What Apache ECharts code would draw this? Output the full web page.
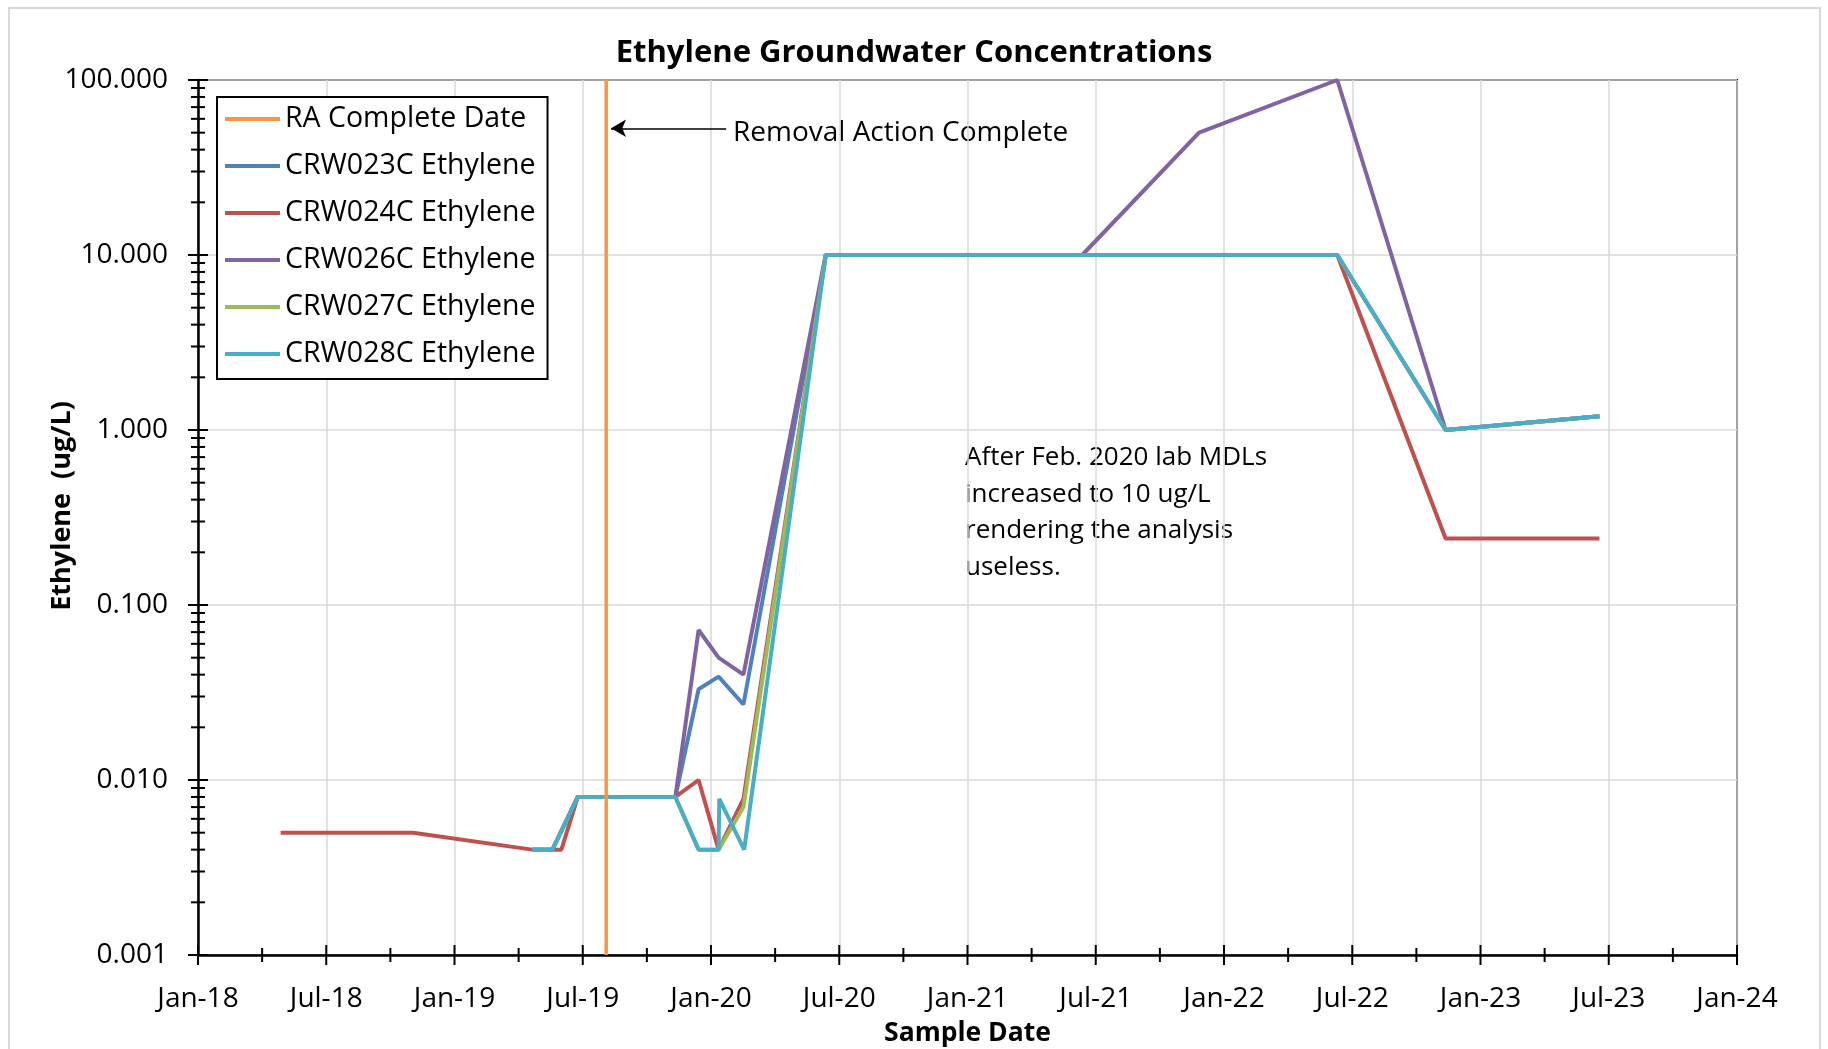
<!DOCTYPE html>
<html>
<head>
<meta charset="utf-8">
<title>Ethylene Groundwater Concentrations</title>
<script src="https://cdn.jsdelivr.net/npm/echarts@6/dist/echarts.min.js"></script>
<style>
  html, body { margin: 0; padding: 0; background: #fff; overflow: hidden; }
  #chart { width: 1828px; height: 1049px; }
</style>
</head>
<body>
<div id="chart"></div>
<script>
// ---- Data -----------------------------------------------------------------
// X axis tick labels (every 6 months from Jan 2018)
const xTickLabels = ['Jan-18', 'Jul-18', 'Jan-19', 'Jul-19', 'Jan-20', 'Jul-20', 'Jan-21',
                     'Jul-21', 'Jan-22', 'Jul-22', 'Jan-23', 'Jul-23', 'Jan-24'];

// Removal action completion date
const raCompleteDate = '2019-08-04';

// Sample results, [sample date, ethylene ug/L]
const crw023c = [
  ['2019-04-20', 0.004], ['2019-05-19', 0.004], ['2019-06-24', 0.008], ['2019-11-11', 0.008],
  ['2019-12-14', 0.033], ['2020-01-12', 0.039], ['2020-02-16', 0.027], ['2020-06-12', 10],
  ['2021-06-12', 10], ['2021-11-26', 10], ['2022-06-10', 10], ['2022-11-12', 1.0], ['2023-06-18', 1.2]
];
const crw024c = [
  ['2018-04-27', 0.005], ['2018-11-03', 0.005], ['2019-04-20', 0.004], ['2019-06-01', 0.004],
  ['2019-06-24', 0.008], ['2019-11-11', 0.008], ['2019-12-14', 0.010], ['2020-01-12', 0.004],
  ['2020-02-16', 0.0078], ['2020-06-12', 10], ['2021-06-12', 10], ['2021-11-26', 10],
  ['2022-06-10', 10], ['2022-11-12', 0.24], ['2023-06-18', 0.24]
];
const crw026c = [
  ['2019-04-20', 0.004], ['2019-05-19', 0.004], ['2019-06-24', 0.008], ['2019-11-11', 0.008],
  ['2019-12-14', 0.072], ['2020-01-12', 0.050], ['2020-02-16', 0.040], ['2020-06-12', 10],
  ['2021-06-12', 10], ['2021-11-26', 50], ['2022-06-10', 100], ['2022-11-12', 1.0], ['2023-06-18', 1.2]
];
const crw027c = [
  ['2019-04-20', 0.004], ['2019-05-19', 0.004], ['2019-06-24', 0.008], ['2019-11-11', 0.008],
  ['2019-12-14', 0.004], ['2020-01-12', 0.004], ['2020-02-16', 0.007], ['2020-06-12', 10],
  ['2021-06-12', 10], ['2021-11-26', 10], ['2022-06-10', 10], ['2022-11-12', 1.0], ['2023-06-18', 1.2]
];
const crw028c = [
  ['2019-04-20', 0.004], ['2019-05-19', 0.004], ['2019-06-24', 0.008], ['2019-11-11', 0.008],
  ['2019-12-14', 0.004], ['2020-01-12', 0.004], ['2020-01-13', 0.0078], ['2020-02-17', 0.004],
  ['2020-06-12', 10], ['2021-06-12', 10], ['2021-11-26', 10], ['2022-06-10', 10],
  ['2022-11-12', 1.0], ['2023-06-18', 1.2]
];

// Callout arrow pointing at the removal-action line (date, concentration)
const calloutFrom = ['2020-01-23', 53];
const calloutTo = ['2019-08-11', 53];

// ---- Helpers --------------------------------------------------------------
const START_YEAR = 2018;
const X_MIN = 0, X_MAX = 72;        // months since Jan 2018
const Y_MIN = 0.001, Y_MAX = 100;
const FONT = '"Open Sans", "Noto Sans", sans-serif';

// Date string -> fractional months since Jan 1 2018
function toMonth(s) {
  const [y, m, d] = s.split('-').map(Number);
  const dim = new Date(y, m, 0).getDate();
  return (y - START_YEAR) * 12 + (m - 1) + (d - 1) / dim;
}
const toXY = arr => arr.map(([d, v]) => [toMonth(d), v]);

// Tick marks that cross the axis lines (Excel style)
const tickData = [];
for (let m = X_MIN; m <= X_MAX; m += 3) tickData.push([m, Y_MIN, 0, m % 6 === 0 ? 1 : 0]);
for (let e = -3; e <= 2; e++) {
  for (let k = 1; k <= 9; k++) {
    const v = k * Math.pow(10, e);
    if (v > Y_MAX * 1.0001) break;
    tickData.push([X_MIN, v, 1, k === 1 ? 1 : 0]);
  }
}

const wells = [
  { name: 'CRW023C Ethylene', data: crw023c, color: '#4F81BD' },
  { name: 'CRW024C Ethylene', data: crw024c, color: '#C0504D' },
  { name: 'CRW026C Ethylene', data: crw026c, color: '#8064A2' },
  { name: 'CRW027C Ethylene', data: crw027c, color: '#9BBB59' },
  { name: 'CRW028C Ethylene', data: crw028c, color: '#4BACC6' }
];

const chart = echarts.init(document.getElementById('chart'), null, { renderer: 'canvas' });

const series = [];
series.push({
  name: 'RA Complete Date',
  type: 'line',
  data: [[toMonth(raCompleteDate), Y_MIN], [toMonth(raCompleteDate), Y_MAX]],
  symbol: 'none',
  showSymbol: false,
  lineStyle: { color: '#F79646', width: 3.5 },
  itemStyle: { color: '#F79646' },
  z: 3,
  markLine: {
    silent: true,
    animation: false,
    symbol: ['none', 'arrow'],
    symbolSize: [13, 15],
    lineStyle: { color: '#000', width: 1.5, type: 'solid' },
    label: { show: false },
    data: [[
      { coord: [toMonth(calloutFrom[0]), calloutFrom[1]] },
      { coord: [toMonth(calloutTo[0]), calloutTo[1]] }
    ]]
  }
});
wells.forEach(w => {
  series.push({
    name: w.name,
    type: 'line',
    data: toXY(w.data),
    symbol: 'none',
    showSymbol: false,
    lineStyle: { color: w.color, width: 4 },
    itemStyle: { color: w.color },
    z: 2
  });
});
series.push({
  name: 'ticks',
  type: 'custom',
  silent: true,
  clip: false,
  z: 5,
  data: tickData,
  renderItem(params, api) {
    const p = api.coord([api.value(0), api.value(1)]);
    const isY = api.value(2) === 1;
    const len = api.value(3) === 1 ? 10 : 7;
    const shape = isY
      ? { x1: p[0] - len, y1: p[1], x2: p[0] + len, y2: p[1] }
      : { x1: p[0], y1: p[1] - len, x2: p[0], y2: p[1] + len };
    return { type: 'line', shape, style: { stroke: '#000', lineWidth: 2 } };
  }
});

chart.setOption({
  animation: false,
  backgroundColor: '#fff',
  textStyle: { fontFamily: FONT },
  title: {
    text: 'Ethylene Groundwater Concentrations',
    left: 'center',
    top: 33,
    padding: 0,
    textStyle: { fontFamily: FONT, fontSize: 31, fontWeight: 'bold', color: '#000', lineHeight: 40 }
  },
  legend: {
    data: ['RA Complete Date'].concat(wells.map(w => w.name)),
    orient: 'vertical',
    left: 217,
    top: 97,
    padding: [7, 12, 10, 8],
    icon: 'rect',
    itemWidth: 55,
    itemHeight: 4,
    itemGap: 17,
    borderColor: '#000',
    borderWidth: 2,
    backgroundColor: '#fff',
    selectedMode: false,
    textStyle: { fontFamily: FONT, fontSize: 28.5, color: '#000', lineHeight: 30 }
  },
  grid: {
    left: 198, right: 91, top: 80, bottom: 94,
    outerBoundsMode: 'none',
    containLabel: false,
    show: true,
    borderColor: '#000',
    borderWidth: 2,
    backgroundColor: 'transparent'
  },
  xAxis: {
    type: 'value',
    min: X_MIN,
    max: X_MAX,
    interval: 6,
    axisLine: { show: true, onZero: false, lineStyle: { color: '#000', width: 2.5 } },
    axisTick: { show: false },
    splitLine: { show: true, lineStyle: { color: '#d9d9d9', width: 1.5 } },
    axisLabel: {
      formatter: v => xTickLabels[Math.round(v / 6)] || '',
      fontFamily: FONT, fontSize: 28, color: '#000', margin: 29, lineHeight: 30
    },
    name: 'Sample Date',
    nameLocation: 'middle',
    nameGap: 61,
    nameTextStyle: { fontFamily: FONT, fontSize: 26.5, fontWeight: 'bold', color: '#000', lineHeight: 30 }
  },
  yAxis: {
    type: 'log',
    logBase: 10,
    min: Y_MIN,
    max: Y_MAX,
    axisLine: { show: true, onZero: false, lineStyle: { color: '#000', width: 2.5 } },
    axisTick: { show: false },
    splitLine: { show: true, lineStyle: { color: '#d9d9d9', width: 1.5 } },
    axisLabel: {
      formatter: v => Number(v).toFixed(3),
      fontFamily: FONT, fontSize: 28, color: '#000', margin: 30
    }
  },
  graphic: [
    {
      type: 'rect',
      silent: true,
      z: -10,
      shape: { x: 9, y: 8, width: 1811, height: 1100 },
      style: { fill: 'none', stroke: '#d9d9d9', lineWidth: 2 }
    },
    {
      type: 'text',
      silent: true,
      x: 62, y: 506,
      rotation: Math.PI / 2,
      style: {
        text: 'Ethylene  (ug/L)',
        fontFamily: FONT, fontSize: 27, fontWeight: 'bold', fill: '#000',
        align: 'center', verticalAlign: 'middle'
      }
    },
    {
      type: 'text',
      silent: true,
      x: 733, y: 133,
      style: {
        text: 'Removal Action Complete',
        fontFamily: FONT, fontSize: 28, fill: '#000',
        align: 'left', verticalAlign: 'middle'
      }
    },
    {
      type: 'text',
      silent: true,
      x: 965, y: 439,
      style: {
        text: 'After Feb. 2020 lab MDLs\nincreased to 10 ug/L\nrendering the analysis\nuseless.',
        fontFamily: FONT, fontSize: 26, lineHeight: 36.8, fill: '#000',
        align: 'left', verticalAlign: 'top'
      }
    }
  ],
  series
});
</script>
</body>
</html>
